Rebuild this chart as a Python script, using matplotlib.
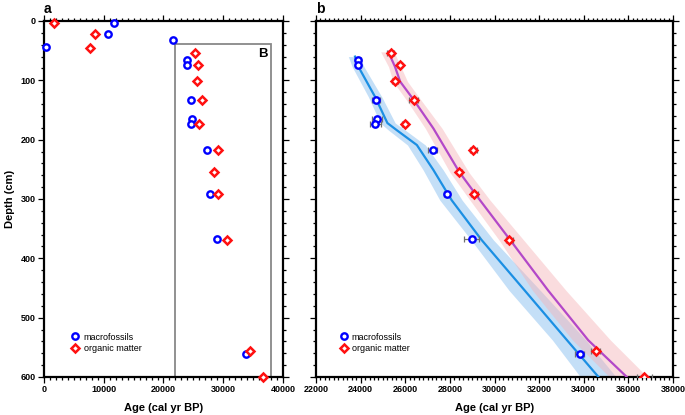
"""
Age-depth plot: radiocarbon dates (macrofossils vs organic matter) in panel a,
zoomed box B in panel b with the age-depth models and their uncertainty bands.
Saves out.png
"""

import matplotlib
matplotlib.use("Agg")
import matplotlib.pyplot as plt
from matplotlib.patches import Rectangle
from matplotlib.ticker import MultipleLocator

plt.rcParams['font.family'] = ['Liberation Sans', 'DejaVu Sans']

# # DATA

# macrofossil dates
macro_age = [280, 10660, 11720, 21640, 23900, 23900, 24690, 24720, 24660,
             27230, 27870, 28980, 33810]
macro_depth = [43, 22, 3, 31.5, 65, 74, 133, 166, 174, 218, 292, 368, 561]
macro_err = [60, 60, 60, 60, 110, 110, 170, 230, 240, 190, 120, 340, 210]

# organic matter dates
org_age = [1720, 8480, 7750, 25350, 25750, 25530, 26380, 25980, 29050,
           28430, 29090, 30670, 34530, 36710]
org_depth = [3, 22, 45, 54.5, 74, 101, 133, 174, 218, 255, 292, 369, 556, 600]
org_err = [60, 60, 60, 160, 120, 130, 200, 120, 170, 130, 160, 170, 200, 330]

# age-depth model, macrofossils
mod_m_depth = [60, 77, 128, 172, 184, 209, 251, 302, 369, 454, 538, 600]
mod_m_age = [23750, 23900, 24650, 25200, 25620, 26520, 27260, 28080, 29420,
             31350, 33250, 34660]
mod_m_lo = [23450, 23620, 24350, 24880, 25250, 26100, 26800, 27550, 28950,
            30650, 32600, 33850]
mod_m_hi = [23950, 24150, 24950, 25550, 26000, 26900, 27700, 28550, 29950,
            32050, 34100, 35450]

# age-depth model, organic matter
mod_o_depth = [52, 77, 102, 133, 181, 255, 302, 369, 454, 538, 600]
mod_o_age = [25240, 25540, 25770, 26380, 27260, 28430, 29350, 30700, 32400,
             34200, 35930]
mod_o_lo = [24900, 25250, 25450, 26050, 26900, 28000, 28900, 30200, 31700,
            33500, 35150]
mod_o_hi = [25500, 25800, 26100, 26700, 27650, 28850, 29800, 31300, 33200,
            35200, 36850]

# # STYLE

blue = "#0000FF"
red = "#FF1010"
line_blue = "#1B8FE3"
line_mag = "#B348C8"

fig = plt.figure(figsize=(6.85, 4.15), dpi=100)
ax_a = fig.add_axes([0.0642, 0.0916, 0.3489, 0.8578])
ax_b = fig.add_axes([0.4613, 0.0916, 0.5212, 0.8578])


def style_axis(ax, xmin, xmax, xmajor, xminor):
    ax.set_xlim(xmin, xmax)
    ax.set_ylim(600, 0)
    ax.xaxis.set_major_locator(MultipleLocator(xmajor))
    ax.xaxis.set_minor_locator(MultipleLocator(xminor))
    ax.yaxis.set_major_locator(MultipleLocator(100))
    ax.yaxis.set_minor_locator(MultipleLocator(20))
    ax.tick_params(which='both', direction='out', top=True, right=True,
                   width=0.9, colors='black')
    ax.tick_params(which='major', length=4, pad=2)
    ax.tick_params(which='minor', length=2)
    for s in ax.spines.values():
        s.set_linewidth(1.6)
    for lab in ax.get_xticklabels() + ax.get_yticklabels():
        lab.set_fontsize(6.5)
        lab.set_fontweight('bold')
    ax.set_xlabel("Age (cal yr BP)", fontsize=8, fontweight='bold', labelpad=6)


def plot_dates(ax, with_err, clip):
    if with_err:
        ax.errorbar(macro_age, macro_depth, xerr=macro_err, fmt='none',
                    ecolor='#707070', elinewidth=0.9, capsize=2.5,
                    capthick=0.9, zorder=4)
        ax.errorbar(org_age, org_depth, xerr=org_err, fmt='none',
                    ecolor='#707070', elinewidth=0.9, capsize=2.5,
                    capthick=0.9, zorder=4)
    ax.plot(macro_age, macro_depth, 'o', ms=4.6, mfc='white', mec=blue,
            mew=1.7, ls='none', label='macrofossils', zorder=5, clip_on=clip)
    ax.plot(org_age, org_depth, 'D', ms=4.3, mfc='white', mec=red,
            mew=1.8, ls='none', label='organic matter', zorder=5, clip_on=clip)


# # PANEL a

plot_dates(ax_a, False, False)
ax_a.add_patch(Rectangle((22000, 39), 16000, 561, fill=False,
                         edgecolor='#888888', lw=1.3, zorder=2))
ax_a.text(36700, 55, "B", fontsize=9.5, fontweight='bold', ha='center',
          va='center')
style_axis(ax_a, 0, 40000, 10000, 1000)
ax_a.set_ylabel("Depth (cm)", fontsize=8, fontweight='bold', labelpad=4)
ax_a.legend(loc='lower left', bbox_to_anchor=(0.09, 0.055), frameon=False,
            fontsize=6.5, handletextpad=0.3, labelspacing=0.25,
            handlelength=1.2, borderpad=0)

# # PANEL b

ax_b.fill_betweenx(mod_m_depth, mod_m_lo, mod_m_hi, color='#7DB9EE',
                   alpha=0.45, lw=0, zorder=1)
ax_b.fill_betweenx(mod_o_depth, mod_o_lo, mod_o_hi, color='#F6B2B6',
                   alpha=0.45, lw=0, zorder=1)
ax_b.plot(mod_m_age, mod_m_depth, color=line_blue, lw=1.6, zorder=3)
ax_b.plot(mod_o_age, mod_o_depth, color=line_mag, lw=1.6, zorder=3)

plot_dates(ax_b, True, True)
style_axis(ax_b, 22000, 38000, 2000, 200)
ax_b.set_yticklabels([])
ax_b.legend(loc='lower left', bbox_to_anchor=(0.05, 0.055), frameon=False,
            fontsize=6.5, handletextpad=0.3, labelspacing=0.25,
            handlelength=1.2, borderpad=0)

# panel letters
fig.text(0.064, 0.978, "a", fontsize=10, fontweight='bold', va='center')
fig.text(0.462, 0.978, "b", fontsize=10, fontweight='bold', va='center')

fig.savefig("out.png", dpi=100)
plt.close()
